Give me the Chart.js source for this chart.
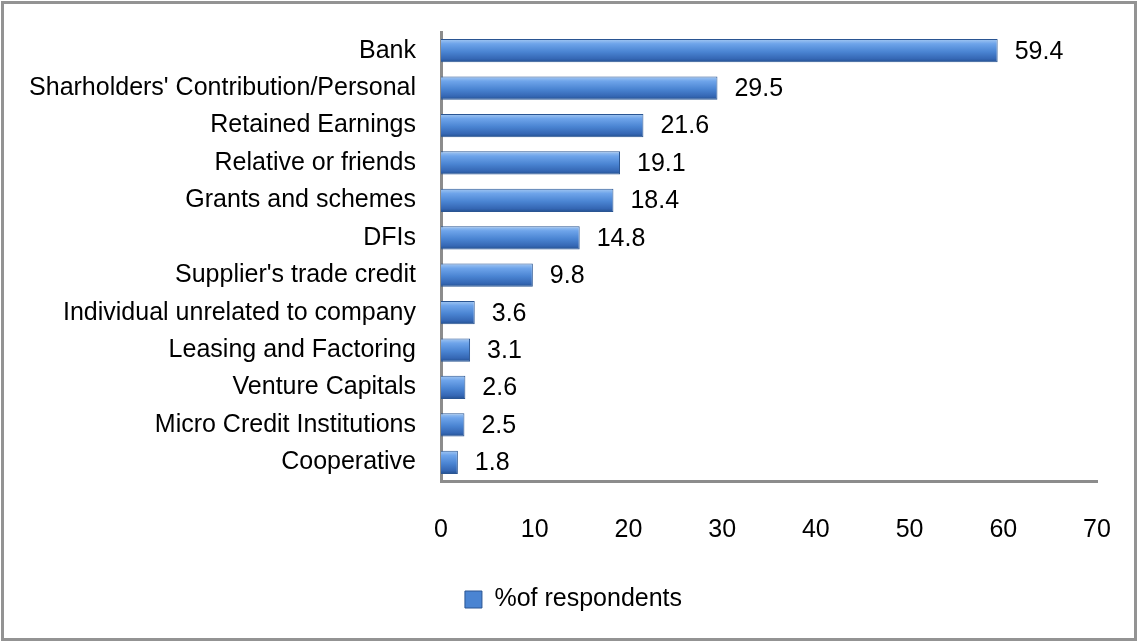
<!DOCTYPE html>
<html>
<head>
<meta charset="utf-8">
<script src="https://cdn.jsdelivr.net/npm/chart.js@4"></script>
<style>
  body { margin: 0; background: #fff; }
</style>
</head>
<body>
<canvas id="myChart" width="1138" height="641"></canvas>
<script>
'use strict'
// data
let sources = ['Bank', "Sharholders' Contribution/Personal", 'Retained Earnings', 'Relative or friends',
  'Grants and schemes', 'DFIs', "Supplier's trade credit", 'Individual unrelated to company',
  'Leasing and Factoring', 'Venture Capitals', 'Micro Credit Institutions', 'Cooperative']
let percentRespondents = [59.4, 29.5, 21.6, 19.1, 18.4, 14.8, 9.8, 3.6, 3.1, 2.6, 2.5, 1.8]
let seriesName = '%of respondents'
let xTicks = [0, 10, 20, 30, 40, 50, 60, 70]

const FONT = 'Liberation Sans, Arial, sans-serif'
const FONT_SIZE = 25
const BAR_PCT = 0.62

// bar fill, light at the top edge, dark at the bottom edge
function barFill(context) {
  let chart = context.chart
  if (!chart.chartArea || context.dataIndex === undefined) return '#4a84d2'
  let yScale = chart.scales.y
  let step = chart.chartArea.height / sources.length
  let mid = yScale.getPixelForValue(context.dataIndex)
  let half = step * BAR_PCT / 2
  let g = chart.ctx.createLinearGradient(0, mid - half, 0, mid + half)
  g.addColorStop(0, '#a4c8f2')
  g.addColorStop(0.2, '#6ea4ea')
  g.addColorStop(0.55, '#4a84d2')
  g.addColorStop(0.85, '#3567b4')
  g.addColorStop(1, '#23508f')
  return g
}

// white page + grey frame
const frame = {
  id: 'frame',
  beforeDraw(chart) {
    let c = chart.ctx
    c.save()
    c.fillStyle = '#fff'
    c.fillRect(0, 0, chart.width, chart.height)
    c.strokeStyle = '#939393'
    c.lineWidth = 3
    c.strokeRect(2.5, 2.5, chart.width - 5, chart.height - 4)
    c.restore()
  }
}

// legend sits a bit right of centre in the original
const legendShift = {
  id: 'legendShift',
  afterLayout(chart) {
    chart.legend.left += 25
    chart.legend.right += 25
  }
}

// value at the end of each bar
const valueLabels = {
  id: 'valueLabels',
  afterDatasetsDraw(chart) {
    let c = chart.ctx
    let meta = chart.getDatasetMeta(0)
    c.save()
    c.font = FONT_SIZE + 'px ' + FONT
    c.fillStyle = '#000'
    c.textBaseline = 'middle'
    c.textAlign = 'left'
    meta.data.forEach((bar, i) => {
      c.fillText(percentRespondents[i].toFixed(1), bar.x + 17, bar.y + 1)
    })
    c.restore()
  }
}

const ctx = document.getElementById('myChart')

new Chart(ctx, {
  type: 'bar',
  data: {
    labels: sources,
    datasets: [{
      label: seriesName,
      data: percentRespondents,
      backgroundColor: barFill,
      borderColor: '#2a5592',
      borderWidth: 1,
      barPercentage: BAR_PCT,
      categoryPercentage: 1
    }]
  },
  options: {
    indexAxis: 'y',
    responsive: false,
    animation: false,
    layout: { padding: { left: 0, right: 41, top: 32, bottom: 19 } },
    scales: {
      x: {
        min: 0,
        max: 70,
        afterBuildTicks(scale) {
          scale.ticks = xTicks.map(v => ({ value: v }))
        },
        afterFit(scale) {
          scale.height = 96
          scale.paddingLeft = 0
          scale.paddingRight = 0
        },
        grid: { display: false, drawTicks: false },
        border: { display: true, color: '#8c8c8c', width: 3 },
        ticks: { color: '#000', font: { family: FONT, size: FONT_SIZE }, padding: 34 }
      },
      y: {
        afterFit(scale) {
          scale.width = 441
          scale.paddingTop = 0
          scale.paddingBottom = 0
        },
        grid: { display: false, drawTicks: false },
        border: { display: true, color: '#8c8c8c', width: 3 },
        ticks: { color: '#000', font: { family: FONT, size: FONT_SIZE }, padding: 25, autoSkip: false }
      }
    },
    plugins: {
      tooltip: { enabled: false },
      legend: {
        position: 'bottom',
        labels: {
          color: '#000',
          font: { family: FONT, size: FONT_SIZE },
          boxWidth: 17,
          boxHeight: 17,
          padding: 10,
          generateLabels(chart) {
            return [{
              text: seriesName,
              fillStyle: '#4a84d2',
              strokeStyle: '#2a5592',
              lineWidth: 1,
              datasetIndex: 0
            }]
          }
        }
      }
    }
  },
  plugins: [frame, legendShift, valueLabels]
})
</script>
</body>
</html>
